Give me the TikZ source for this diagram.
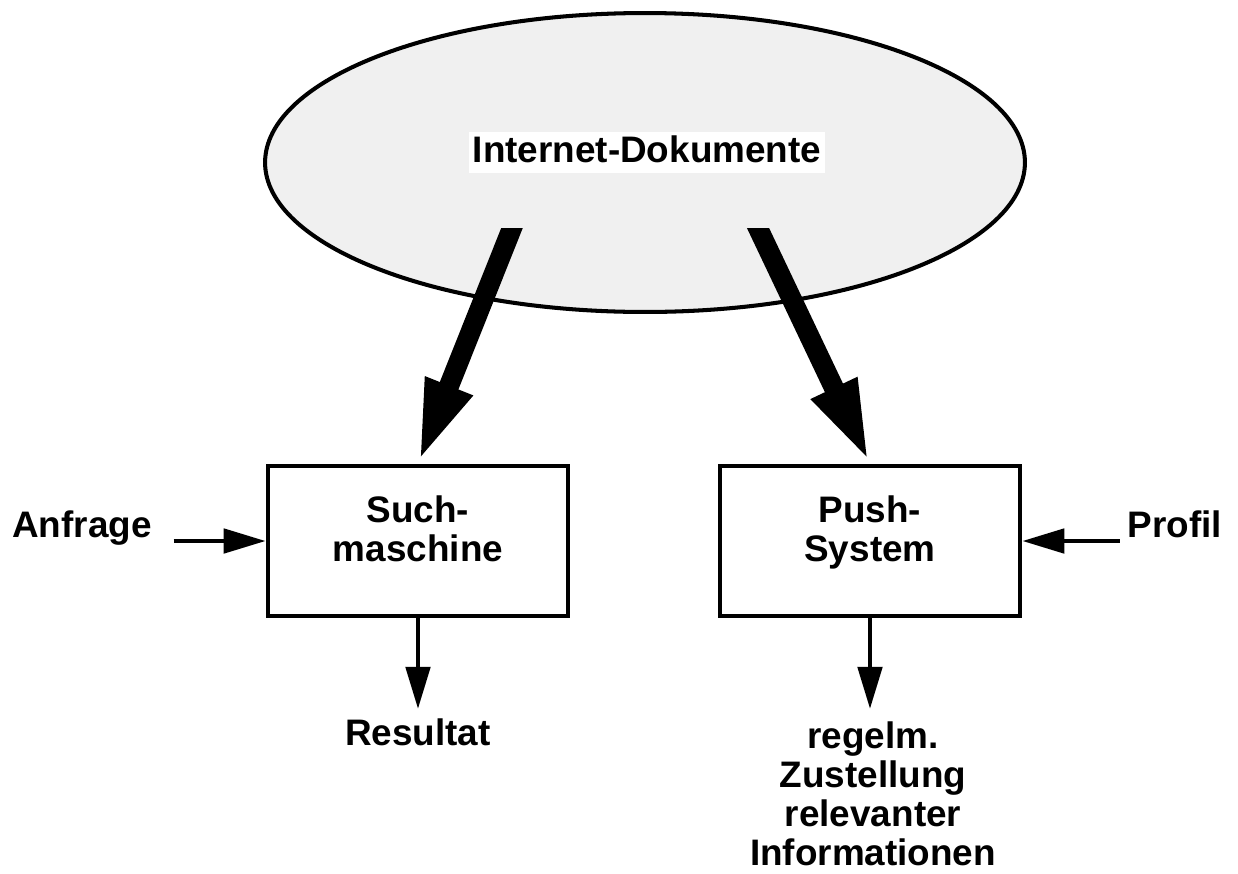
\documentclass[tikz,border=0pt]{standalone}
\usepackage{fontspec}
\setmainfont{Liberation Sans}
\usetikzlibrary{shapes.geometric,arrows.meta,calc}
\definecolor{cloudgray}{gray}{0.94}
\begin{document}
\begin{tikzpicture}[x=0.02cm,y=-0.02cm,
  txt/.style={font=\fontsize{21pt}{22.5pt}\selectfont\bfseries,inner sep=0pt,outer sep=0pt},
  cloud/.style={ellipse,draw,line width=2.3pt,fill=cloudgray,minimum width=15.2cm,minimum height=5.98cm,inner sep=0pt},
  box/.style={txt,draw,line width=2.6pt,outer sep=1.3pt,minimum width=6cm,minimum height=3cm,align=center},
  feed/.style={line width=11.4pt,-{Triangle[length=47.8pt,width=25.6pt]}},
  flow/.style={line width=2.8pt,-{Triangle[length=24pt,width=13.7pt]}},
]
\useasboundingbox (0,0) rectangle (1238,873);

% document pool
\node[cloud] (docs) at (645,162.5) {};
\node[txt,fill=white,anchor=base,inner xsep=2.3pt,text height=17pt,text depth=6.3pt] (docslabel) at (647,162) {Internet-Dokumente};

% the two access systems
\node[box] (such) at (418,541) {Such-\\maschine\rule[-13.9pt]{0pt}{13.9pt}};
\node[box] (push) at (870,541) {Push-\\System\rule[-13.9pt]{0pt}{13.9pt}};

% heavy feeds out of the pool, cut off horizontally at the top
\coordinate (srcL) at (512,228);
\coordinate (srcR) at (758,228);
\begin{scope}
  \clip (0,228) rectangle (1238,873);
  \draw[feed] ($(srcL)!-0.5cm!(such.north)$) -- (such.north);
  \draw[feed] ($(srcR)!-0.5cm!(push.north)$) -- (push.north);
\end{scope}

% inputs
\node[txt,anchor=base,inner xsep=12.5pt] (anfrage) at (82,537) {Anfrage};
\node[txt,anchor=base,inner xsep=4.5pt] (profil) at (1175,537) {Profil};
\draw[flow] (anfrage.east |- such.west) -- (such.west);
\draw[flow] (profil.west |- push.east) -- (push.east);

% outputs
\node[txt,anchor=north,inner ysep=5.4pt] (result) at (418,709) {Resultat};
\node[txt,anchor=north,inner ysep=7.2pt,align=center,font=\fontsize{21pt}{22.2pt}\selectfont\bfseries] (info) at (873,709) {regelm.\\Zustellung\\relevanter\\Informationen};
\draw[flow] (such.south) -- (such.south |- result.north);
\draw[flow] (push.south) -- (push.south |- info.north);
\end{tikzpicture}
\end{document}
